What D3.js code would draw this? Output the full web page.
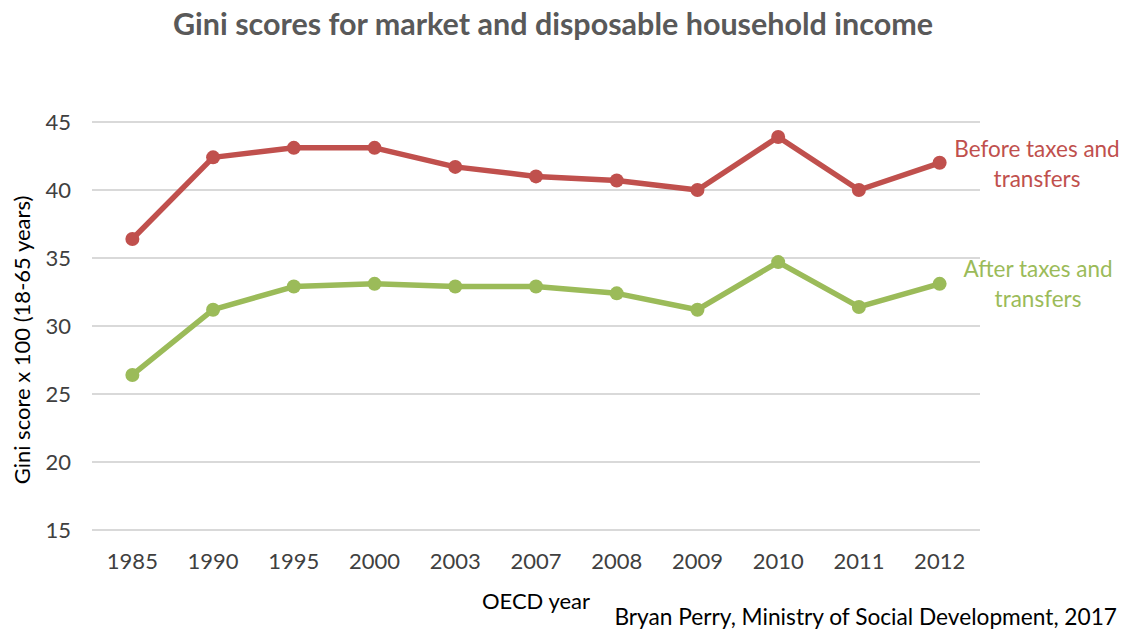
<!DOCTYPE html>
<html>
<head>
<meta charset="utf-8">
<script src="https://cdn.jsdelivr.net/npm/d3@7"></script>
<style>
  body { margin: 0; background: #fff; }
  svg { font-family: Lato, "Open Sans", sans-serif; }
</style>
</head>
<body>
<div id="chart"></div>
<script>
var years = ["1985", "1990", "1995", "2000", "2003", "2007", "2008", "2009", "2010", "2011", "2012"]
var beforeTaxes = [36.4, 42.4, 43.1, 43.1, 41.7, 41.0, 40.7, 40.0, 43.9, 40.0, 42.0]
var afterTaxes = [26.4, 31.2, 32.9, 33.1, 32.9, 32.9, 32.4, 31.2, 34.7, 31.4, 33.1]
var yTicks = [15, 20, 25, 30, 35, 40, 45]

var width = 1126, height = 631

var svg = d3.select("#chart").append("svg")
    .attr("width", width)
    .attr("height", height)

var x = d3.scaleBand()
    .domain(years)
    .range([92, 980])

var y = d3.scaleLinear()
    .domain([15, 45])
    .range([530, 122])

// gridlines
svg.append("g").selectAll("line")
  .data(yTicks)
  .enter()
    .append("line")
    .attr("x1", 92)
    .attr("x2", 980)
    .attr("y1", d => y(d))
    .attr("y2", d => y(d))
    .attr("stroke", "#d9d9d9")
    .attr("stroke-width", 2)

// y axis labels
var yAxis = svg.append("g")
    .attr("transform", "translate(71,0)")
    .call(d3.axisLeft(y).tickValues(yTicks).tickSize(0).tickPadding(0))
yAxis.select(".domain").remove()
yAxis.selectAll("text")
    .attr("font-family", "Lato, 'Open Sans', sans-serif")
    .attr("font-size", "22px")
    .attr("fill", "#404040")

// x axis labels
var xAxis = svg.append("g")
    .attr("transform", "translate(0,553)")
    .call(d3.axisBottom(x).tickSize(0).tickPadding(0))
xAxis.select(".domain").remove()
xAxis.selectAll("text")
    .attr("font-family", "Lato, 'Open Sans', sans-serif")
    .attr("font-size", "22px")
    .attr("fill", "#404040")

function cx(d, i) { return x(years[i]) + x.bandwidth() / 2 }

var series = [
  {name: ["Before taxes and", "transfers"], values: beforeTaxes, color: "#c0504d", lx: 1037, ly: 157},
  {name: ["After taxes and", "transfers"], values: afterTaxes, color: "#9bbb59", lx: 1038, ly: 277}
]

var line = d3.line()
    .x(cx)
    .y(d => y(d))

series.forEach(s => {
  svg.append("path")
    .datum(s.values)
    .attr("d", line)
    .attr("fill", "none")
    .attr("stroke", s.color)
    .attr("stroke-width", 5.5)
    .attr("stroke-linejoin", "round")

  svg.append("g").selectAll("circle")
    .data(s.values)
    .enter()
      .append("circle")
      .attr("cx", cx)
      .attr("cy", d => y(d))
      .attr("r", 7)
      .attr("fill", s.color)

  svg.append("text")
    .attr("text-anchor", "middle")
    .attr("font-size", "22.5px")
    .attr("fill", s.color)
    .selectAll("tspan")
    .data(s.name)
    .enter()
      .append("tspan")
      .attr("x", s.lx)
      .attr("y", (d, i) => s.ly + i * 30)
      .text(d => d)
})

// title
svg.append("text")
    .attr("x", 553)
    .attr("y", 35)
    .attr("text-anchor", "middle")
    .attr("font-size", "30.5px")
    .attr("font-weight", "bold")
    .attr("fill", "#595959")
    .text("Gini scores for market and disposable household income")

// axis titles
svg.append("text")
    .attr("transform", "translate(30,340) rotate(-90)")
    .attr("text-anchor", "middle")
    .attr("font-size", "22px")
    .attr("fill", "#000")
    .text("Gini score x 100 (18-65 years)")

svg.append("text")
    .attr("x", 536)
    .attr("y", 609)
    .attr("text-anchor", "middle")
    .attr("font-size", "22px")
    .attr("fill", "#000")
    .text("OECD year")

svg.append("text")
    .attr("x", 1117)
    .attr("y", 625)
    .attr("text-anchor", "end")
    .attr("font-size", "22.7px")
    .attr("fill", "#000")
    .text("Bryan Perry, Ministry of Social Development, 2017")
</script>
</body>
</html>
